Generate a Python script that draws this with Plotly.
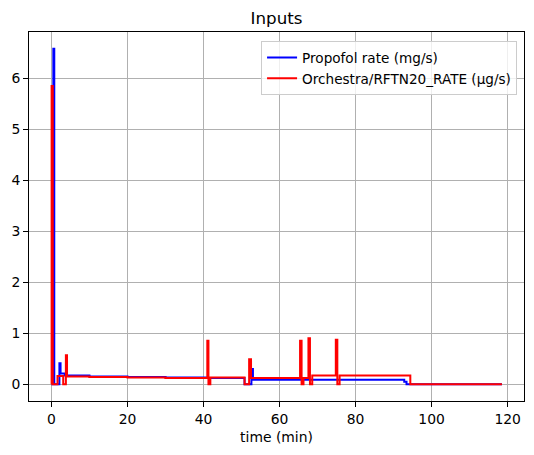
import plotly.graph_objects as go

# step change points (time in min, value starts at that time)
PROPOFOL_T = [0.0, 0.5, 0.75, 2.1, 2.4, 3.5, 10.0, 20.0, 30.0, 41.0, 50.8, 52.6, 53.0, 92.8, 93.4, 118.5]
PROPOFOL_V = [0.0, 6.58, 0.0, 0.41, 0.21, 0.17, 0.15, 0.14, 0.13, 0.12, 0.0, 0.30, 0.085, 0.05, 0.0, 0.0]

REMI_T = [0.0, 0.05, 0.35, 1.6, 3.1, 3.8, 4.1, 10.0, 20.0, 30.0, 41.0, 41.3, 41.8, 50.8, 52.0, 52.5,
          65.4, 65.8, 66.3, 67.6, 68.0, 68.6, 74.8, 75.2, 75.8, 94.4, 118.5]
REMI_V = [0.0, 5.85, 0.0, 0.16, 0.0, 0.57, 0.15, 0.14, 0.13, 0.12, 0.85, 0.0, 0.13, 0.0, 0.49, 0.12,
          0.85, 0.0, 0.12, 0.90, 0.0, 0.17, 0.87, 0.0, 0.17, 0.0, 0.0]

X_TICKS = [0, 20, 40, 60, 80, 100, 120]
Y_TICKS = [0, 1, 2, 3, 4, 5, 6]

FONT = "DejaVu Sans"
GRID = "#b0b0b0"

# page body has an 8px margin, so the figure is drawn a bit smaller
W, H = 526, 447

fig = go.Figure()
fig.add_trace(
    go.Scatter(
        x=PROPOFOL_T,
        y=PROPOFOL_V,
        mode="lines",
        line={"color": "#0000ff", "width": 2, "shape": "hv"},
        name="Propofol rate (mg/s)",
    )
)
fig.add_trace(
    go.Scatter(
        x=REMI_T,
        y=REMI_V,
        mode="lines",
        line={"color": "#ff0000", "width": 2, "shape": "hv"},
        name="Orchestra/RFTN20_RATE (µg/s)",
    )
)

axis_style = dict(
    showline=True,
    mirror=True,
    linecolor="black",
    linewidth=1,
    ticks="outside",
    ticklen=5,
    tickcolor="black",
    showgrid=True,
    gridcolor=GRID,
    gridwidth=1,
    zeroline=False,
    automargin=False,
    tickfont={"size": 13.9, "color": "black"},
)

fig.update_xaxes(
    range=[-5.9, 124.3],
    tickvals=X_TICKS,
    title={"text": "time (min)", "font": {"size": 13.9, "color": "black"}, "standoff": 6},
    **axis_style,
)
fig.update_yaxes(range=[-0.33, 6.91], tickvals=Y_TICKS, **axis_style)

fig.update_layout(
    width=W,
    height=H,
    margin={"l": 21, "r": 10, "t": 24, "b": 54, "autoexpand": False},
    paper_bgcolor="white",
    plot_bgcolor="white",
    font={"family": FONT, "color": "black"},
    title={
        "text": "Inputs",
        "x": 0.5,
        "xref": "paper",
        "xanchor": "center",
        "y": 1 - 10 / H,
        "yanchor": "middle",
        "font": {"size": 16.7, "color": "black"},
    },
    legend={
        "x": 0.986,
        "xanchor": "right",
        "y": 0.975,
        "yanchor": "top",
        "bgcolor": "rgba(255,255,255,0.8)",
        "bordercolor": "#cccccc",
        "borderwidth": 1,
        "font": {"size": 13.6, "color": "black"},
        "tracegroupgap": 0,
    },
    showlegend=True,
)

fig.write_html("out.html")
